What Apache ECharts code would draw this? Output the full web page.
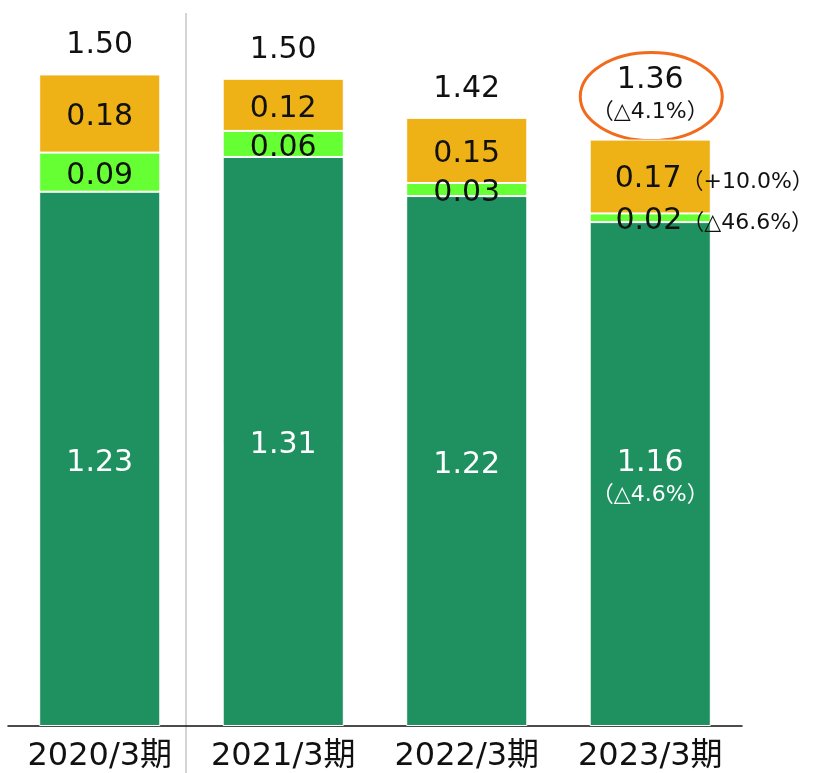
<!DOCTYPE html>
<html>
<head>
<meta charset="utf-8">
<script src="https://cdn.jsdelivr.net/npm/echarts@6/dist/echarts.min.js"></script>
<style>
	html, body { margin: 0; padding: 0; background: #fff; }
	#chart { width: 813px; height: 773px; }
</style>
</head>
<body>
<div id="chart"></div>
<script>
var categories = ['2020/3期', '2021/3期', '2022/3期', '2023/3期'];
var baseValues = [1.23, 1.31, 1.22, 1.16];
var midValues = [0.09, 0.06, 0.03, 0.02];
var topValues = [0.18, 0.12, 0.15, 0.17];
var totals = [1.50, 1.50, 1.42, 1.36];
// year-on-year notes, only for the latest period
var baseNotes = ['', '', '', '△4.6%'];
var midNotes = ['', '', '', '△46.6%'];
var topNotes = ['', '', '', '+10.0%'];
var totalNotes = ['', '', '', '△4.1%'];

var font = '"DejaVu Sans", "Noto Sans CJK JP", sans-serif';

function stackedLabel(notes, color) {
	return {
		show: true,
		position: 'inside',
		offset: [0, 4],
		fontFamily: font,
		formatter: function (p) {
			var v = '{v|' + p.value.toFixed(2) + '}';
			return notes[p.dataIndex] ? v + '{n|（' + notes[p.dataIndex] + '）}' : v;
		},
		rich: {
			v: { fontSize: 30, color: color, fontFamily: font },
			n: { fontSize: 22, color: color, fontFamily: font, padding: [5, 0, 0, 0] }
		}
	};
}

function sideData(values, notes) {
	return values.map(function (v, i) {
		return notes[i] ? { value: v, label: { offset: [64, 3] } } : v;
	});
}

var option = {
	animation: false,
	grid: { left: 8, right: 71, top: 31, bottom: 46 },
	xAxis: {
		type: 'category',
		data: categories,
		axisTick: { show: false },
		axisLine: { lineStyle: { color: '#111', width: 1.5 } },
		axisLabel: { interval: 0, hideOverlap: false, fontSize: 32, color: '#111', fontFamily: font, margin: 15 }
	},
	yAxis: { type: 'value', min: 0, max: 1.6, show: false },
	series: [{
		name: 'base',
		type: 'bar',
		stack: 'total',
		barWidth: '66%',
		data: baseValues,
		itemStyle: { color: '#1F9160', borderColor: '#fff', borderWidth: 1 },
		label: {
			show: true,
			position: 'inside',
			offset: [0, 4],
			formatter: function (p) {
				var v = '{v|' + p.value.toFixed(2) + '}';
				return baseNotes[p.dataIndex] ? v + '\n{n|（' + baseNotes[p.dataIndex] + '）}' : v;
			},
			rich: {
				v: { fontSize: 30, color: '#fff', fontFamily: font, lineHeight: 34 },
				n: { fontSize: 22, color: '#fff', fontFamily: font, lineHeight: 30 }
			}
		}
	}, {
		name: 'mid',
		type: 'bar',
		stack: 'total',
		data: sideData(midValues, midNotes),
		itemStyle: { color: '#66FF33', borderColor: '#fff', borderWidth: 1 },
		label: stackedLabel(midNotes, '#111')
	}, {
		name: 'top',
		type: 'bar',
		stack: 'total',
		data: sideData(topValues, topNotes),
		itemStyle: { color: '#EEB217', borderColor: '#fff', borderWidth: 1 },
		label: stackedLabel(topNotes, '#111')
	}, {
		name: 'sum',
		type: 'bar',
		stack: 'total',
		data: totals.map(function () { return 0; }),
		itemStyle: { color: 'transparent' },
		label: {
			show: true,
			position: 'top',
			distance: 12,
			formatter: function (p) {
				var i = p.dataIndex;
				var v = '{v|' + totals[i].toFixed(2) + '}';
				return totalNotes[i] ? v + '\n{n|（' + totalNotes[i] + '）}' : v;
			},
			rich: {
				v: { fontSize: 30, color: '#111', fontFamily: font, lineHeight: 34 },
				n: { fontSize: 22, color: '#111', fontFamily: font, lineHeight: 30 }
			}
		}
	}]
};

var chart = echarts.init(document.getElementById('chart'));
chart.setOption(option);

// decorations: divider after the first period and ring round the latest total
var last = categories.length - 1;
var barTop = chart.convertToPixel({ gridIndex: 0 }, [last, baseValues[last] + midValues[last] + topValues[last]]);
chart.setOption({
	graphic: [{
		type: 'line',
		shape: { x1: 186, y1: 13, x2: 186, y2: 773 },
		style: { stroke: '#d4d4d4', lineWidth: 2 }
	}, {
		type: 'ellipse',
		shape: { cx: barTop[0] + 1, cy: barTop[1] - 43, rx: 71, ry: 44 },
		style: { fill: 'none', stroke: '#F26A1B', lineWidth: 3 }
	}]
});
</script>
</body>
</html>
